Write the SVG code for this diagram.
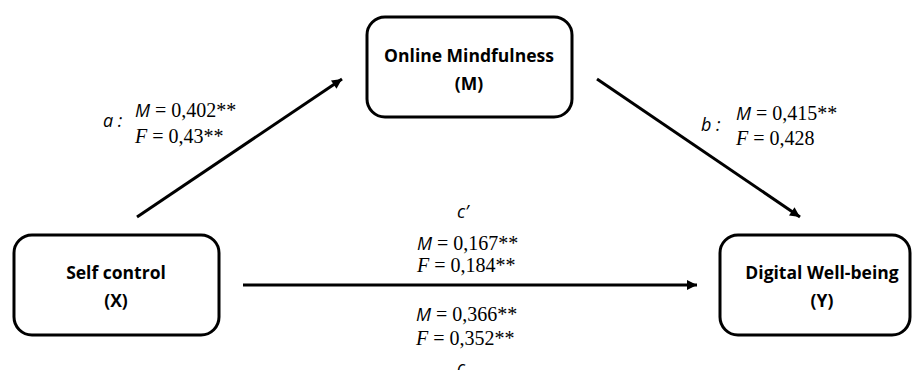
<svg xmlns="http://www.w3.org/2000/svg" width="912" height="370" viewBox="0 0 912 370">
<style>
.box{fill:#fff;stroke:#000;stroke-width:3}
.nt{font-family:"Open Sans","Liberation Sans",sans-serif;font-weight:700;font-size:17.5px;text-anchor:middle;fill:#000}
.con{stroke:#000;stroke-width:3;fill:none}
.lab{font-family:"Liberation Serif",serif;font-size:20px;fill:#000}
.si{font-family:"Open Sans","Liberation Sans",sans-serif;font-style:italic;font-size:18px}
.ti{font-style:italic}
</style>
<defs>
<marker id="ah" viewBox="0 0 10 10" refX="10" refY="5" markerWidth="11" markerHeight="10" markerUnits="userSpaceOnUse" orient="auto">
<path d="M0,0 L10,5 L0,10 Z" fill="#000"/>
</marker>
</defs>
<g id="connectors">
<line class="con" x1="137" y1="217" x2="342" y2="79" marker-end="url(#ah)"/>
<line class="con" x1="597" y1="79" x2="800" y2="217" marker-end="url(#ah)"/>
<line class="con" x1="243" y1="285" x2="697" y2="285" marker-end="url(#ah)"/>
</g>
<g id="node-M">
<rect class="box" x="367" y="17" width="205" height="100" rx="18"/>
<text class="nt" x="469" y="62">Online Mindfulness</text>
<text class="nt" x="469" y="90">(M)</text>
</g>
<g id="node-X">
<rect class="box" x="14" y="235" width="205" height="100" rx="18"/>
<text class="nt" x="116" y="279">Self control</text>
<text class="nt" x="116" y="307">(X)</text>
</g>
<g id="node-Y">
<rect class="box" x="720" y="235" width="190" height="100" rx="18"/>
<text class="nt" x="822" y="279">Digital Well-being</text>
<text class="nt" x="822" y="307">(Y)</text>
</g>
<g id="labels">
<text class="lab" x="103" y="127"><tspan class="si">a :</tspan></text>
<text class="lab" x="135" y="117"><tspan class="si">M</tspan> = 0,402**</text>
<text class="lab" x="135" y="143"><tspan class="ti">F</tspan> = 0,43**</text>
<text class="lab" x="701" y="131"><tspan class="si">b :</tspan></text>
<text class="lab" x="736" y="120"><tspan class="si">M</tspan> = 0,415**</text>
<text class="lab" x="736" y="145"><tspan class="ti">F</tspan> = 0,428</text>
<text class="lab" x="457" y="218"><tspan class="si">c’</tspan></text>
<text class="lab" x="417" y="250"><tspan class="si">M</tspan> = 0,167**</text>
<text class="lab" x="417" y="272"><tspan class="ti">F</tspan> = 0,184**</text>
<text class="lab" x="416" y="321"><tspan class="si">M</tspan> = 0,366**</text>
<text class="lab" x="416" y="345"><tspan class="ti">F</tspan> = 0,352**</text>
<text class="lab" x="457" y="374"><tspan class="si">c</tspan></text>
</g>
</svg>
